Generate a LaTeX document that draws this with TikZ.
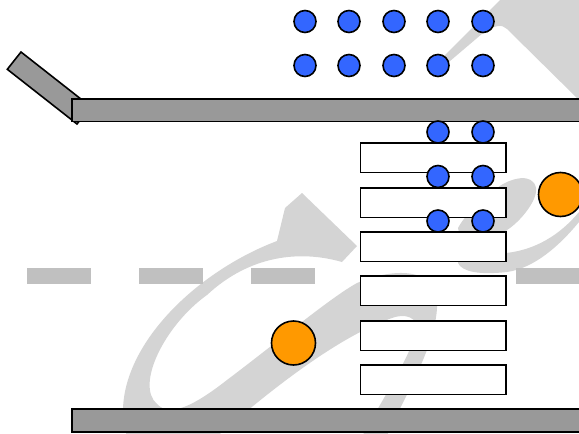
\documentclass[tikz,border=0pt]{standalone}
\definecolor{roadgray}{HTML}{999999}
\definecolor{dashgray}{HTML}{C0C0C0}
\definecolor{pathgray}{HTML}{D4D4D4}
\definecolor{carblue}{HTML}{3366FF}
\definecolor{carorange}{HTML}{FF9900}
\tikzset{
    road/.style={draw=black, fill=roadgray, line width=1.6pt},
    lane/.style={fill=dashgray},
    track/.style={fill=pathgray},
    crossing/.style={draw=black, fill=white, line width=1.6pt},
    walker/.style={draw=black, fill=carblue, line width=1.6pt},
    car/.style={draw=black, fill=carorange, line width=1.6pt}
}
\begin{document}
\begin{tikzpicture}[x=1pt, y=-1pt]
    \useasboundingbox (0,0) rectangle (579,434);
    \clip (0,0) rectangle (579,434);
    % tracks
    \fill[track] (438,62) -- (500,0) -- (579,0) -- (579,100) -- (507,29)
        .. controls (502,24) and (495,25) .. (483,33) -- (443,67) -- cycle;
    \fill[track] (302,193) -- (285,208) -- (277,241)
        .. controls (200,270) and (125,340) .. (123,409) -- (127,440) -- (213,440)
        .. controls (270,390) and (340,335) .. (395,317)
        .. controls (412,313) and (420,322) .. (415,335)
        .. controls (408,360) and (385,395) .. (360,440) -- (385,440)
        .. controls (405,395) and (440,340) .. (437,298)
        .. controls (435,272) and (400,265) .. (357,283)
        .. controls (330,298) and (280,340) .. (227,380)
        .. controls (195,405) and (170,418) .. (157,404)
        .. controls (135,385) and (165,325) .. (207,295)
        .. controls (250,255) and (300,250) .. (342,262) -- (357,246) -- cycle;
    \fill[track] (579,212) .. controls (560,235) and (535,250) .. (506,253) -- (490,250) -- (507,230)
        .. controls (520,222) and (538,200) .. (536,188)
        .. controls (533,172) and (510,178) .. (497,188)
        .. controls (480,200) and (465,215) .. (458,228) -- (462,245) -- (458,263)
        .. controls (462,272) and (480,275) .. (507,272)
        .. controls (535,268) and (560,245) .. (579,222) -- cycle;
    % lane markings
    \foreach \x in {27,139,251,516}
        \fill[lane] (\x,268) rectangle ++(64,16);
    % roadside
    \draw[road] (21,52) -- (7.3,69.3) -- (77,124) -- (90.7,106.7) -- cycle;
    \draw[road] (72,99) rectangle (590,121.5);
    \draw[road] (72,409) rectangle (590,432);
    % crossing
    \foreach \y in {143,188,232,276,321,365}
        \draw[crossing] (360.5,\y) rectangle ++(145.5,29.5);
    % walkers
    \foreach \x in {305,349,394,438,483}
        \foreach \y in {21.5,65.5}
            \draw[walker] (\x,\y) circle (11);
    \foreach \x in {438,483}
        \foreach \y in {132,176.5,221}
            \draw[walker] (\x,\y) circle (11);
    % cars
    \draw[car] (293.5,343) circle (22);
    \draw[car] (560.5,194.5) circle (22);
\end{tikzpicture}
\end{document}
